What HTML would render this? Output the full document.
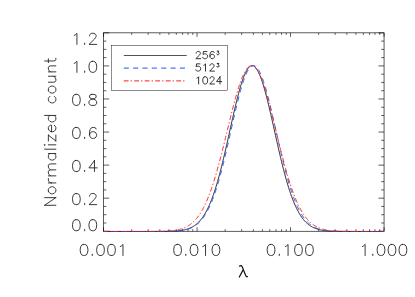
<!DOCTYPE html>
<html><head><meta charset="utf-8"><title>plot</title>
<style>
html,body{margin:0;padding:0;background:#fff;}
body{width:415px;height:297px;overflow:hidden;position:relative;font-family:"Liberation Sans",sans-serif;}
</style></head>
<body>
<svg width="415" height="297" viewBox="0 0 415 297" style="display:block;position:absolute;left:0;top:0">
<rect width="415" height="297" fill="#fff"/>
<g stroke="#000" stroke-width="0.64" fill="none">
<rect x="103.55" y="32.85" width="280.50" height="198.40"/>
<path d="M103.55,231.25 v-3.97 M103.55,32.85 v3.97 M131.70,231.25 v-1.98 M131.70,32.85 v1.98 M148.16,231.25 v-1.98 M148.16,32.85 v1.98 M159.84,231.25 v-1.98 M159.84,32.85 v1.98 M168.90,231.25 v-1.98 M168.90,32.85 v1.98 M176.31,231.25 v-1.98 M176.31,32.85 v1.98 M182.57,231.25 v-1.98 M182.57,32.85 v1.98 M187.99,231.25 v-1.98 M187.99,32.85 v1.98 M192.77,231.25 v-1.98 M192.77,32.85 v1.98 M197.05,231.25 v-3.97 M197.05,32.85 v3.97 M225.20,231.25 v-1.98 M225.20,32.85 v1.98 M241.66,231.25 v-1.98 M241.66,32.85 v1.98 M253.34,231.25 v-1.98 M253.34,32.85 v1.98 M262.40,231.25 v-1.98 M262.40,32.85 v1.98 M269.81,231.25 v-1.98 M269.81,32.85 v1.98 M276.07,231.25 v-1.98 M276.07,32.85 v1.98 M281.49,231.25 v-1.98 M281.49,32.85 v1.98 M286.27,231.25 v-1.98 M286.27,32.85 v1.98 M290.55,231.25 v-3.97 M290.55,32.85 v3.97 M318.70,231.25 v-1.98 M318.70,32.85 v1.98 M335.16,231.25 v-1.98 M335.16,32.85 v1.98 M346.84,231.25 v-1.98 M346.84,32.85 v1.98 M355.90,231.25 v-1.98 M355.90,32.85 v1.98 M363.31,231.25 v-1.98 M363.31,32.85 v1.98 M369.57,231.25 v-1.98 M369.57,32.85 v1.98 M374.99,231.25 v-1.98 M374.99,32.85 v1.98 M379.77,231.25 v-1.98 M379.77,32.85 v1.98 M384.05,231.25 v-3.97 M384.05,32.85 v3.97 M103.55,231.25 h5.61 M384.05,231.25 h-5.61 M103.55,222.98 h2.81 M384.05,222.98 h-2.81 M103.55,214.72 h2.81 M384.05,214.72 h-2.81 M103.55,206.45 h2.81 M384.05,206.45 h-2.81 M103.55,198.18 h5.61 M384.05,198.18 h-5.61 M103.55,189.92 h2.81 M384.05,189.92 h-2.81 M103.55,181.65 h2.81 M384.05,181.65 h-2.81 M103.55,173.38 h2.81 M384.05,173.38 h-2.81 M103.55,165.12 h5.61 M384.05,165.12 h-5.61 M103.55,156.85 h2.81 M384.05,156.85 h-2.81 M103.55,148.58 h2.81 M384.05,148.58 h-2.81 M103.55,140.32 h2.81 M384.05,140.32 h-2.81 M103.55,132.05 h5.61 M384.05,132.05 h-5.61 M103.55,123.78 h2.81 M384.05,123.78 h-2.81 M103.55,115.52 h2.81 M384.05,115.52 h-2.81 M103.55,107.25 h2.81 M384.05,107.25 h-2.81 M103.55,98.98 h5.61 M384.05,98.98 h-5.61 M103.55,90.72 h2.81 M384.05,90.72 h-2.81 M103.55,82.45 h2.81 M384.05,82.45 h-2.81 M103.55,74.18 h2.81 M384.05,74.18 h-2.81 M103.55,65.92 h5.61 M384.05,65.92 h-5.61 M103.55,57.65 h2.81 M384.05,57.65 h-2.81 M103.55,49.38 h2.81 M384.05,49.38 h-2.81 M103.55,41.12 h2.81 M384.05,41.12 h-2.81 M103.55,32.85 h5.61 M384.05,32.85 h-5.61"/>
</g>
<g fill="none" stroke-linejoin="round">
<path d="M103.55,231.50 L104.55,231.50 L105.55,231.50 L106.55,231.50 L107.55,231.50 L108.55,231.50 L109.55,231.50 L110.55,231.50 L111.55,231.50 L112.55,231.50 L113.55,231.50 L114.55,231.50 L115.55,231.50 L116.55,231.50 L117.55,231.50 L118.55,231.50 L119.55,231.50 L120.55,231.50 L121.55,231.50 L122.55,231.50 L123.55,231.50 L124.55,231.50 L125.55,231.50 L126.55,231.50 L127.55,231.50 L128.55,231.50 L129.55,231.50 L130.55,231.50 L131.55,231.50 L132.55,231.50 L133.55,231.50 L134.55,231.50 L135.55,231.50 L136.55,231.50 L137.55,231.50 L138.55,231.50 L139.55,231.50 L140.55,231.50 L141.55,231.50 L142.55,231.50 L143.55,231.50 L144.55,231.50 L145.55,231.50 L146.55,231.50 L147.55,231.50 L148.55,231.50 L149.55,231.50 L150.55,231.49 L151.55,231.49 L152.55,231.49 L153.55,231.49 L154.55,231.49 L155.55,231.49 L156.55,231.48 L157.55,231.48 L158.55,231.47 L159.55,231.47 L160.55,231.46 L161.55,231.46 L162.55,231.45 L163.55,231.44 L164.55,231.43 L165.55,231.41 L166.55,231.39 L167.55,231.37 L168.55,231.35 L169.55,231.32 L170.55,231.29 L171.55,231.26 L172.55,231.21 L173.55,231.16 L174.55,231.11 L175.55,231.04 L176.55,230.97 L177.55,230.88 L178.55,230.78 L179.55,230.67 L180.55,230.54 L181.55,230.39 L182.55,230.22 L183.55,230.03 L184.55,229.81 L185.55,229.57 L186.55,229.29 L187.55,228.99 L188.55,228.64 L189.55,228.25 L190.55,227.82 L191.55,227.34 L192.55,226.81 L193.55,226.22 L194.55,225.56 L195.55,224.84 L196.55,224.05 L197.55,223.17 L198.55,222.22 L199.55,221.17 L200.55,220.03 L201.55,218.79 L202.55,217.45 L203.55,215.99 L204.55,214.42 L205.55,212.72 L206.55,210.90 L207.55,208.95 L208.55,206.86 L209.55,204.63 L210.55,202.26 L211.55,199.74 L212.55,197.08 L213.55,194.27 L214.55,191.31 L215.55,188.20 L216.55,184.94 L217.55,181.54 L218.55,178.00 L219.55,174.33 L220.55,170.52 L221.55,166.59 L222.55,162.55 L223.55,158.40 L224.55,154.16 L225.55,149.83 L226.55,145.44 L227.55,141.00 L228.55,136.51 L229.55,132.00 L230.55,127.49 L231.55,123.00 L232.55,118.53 L233.55,114.12 L234.55,109.78 L235.55,105.54 L236.55,101.40 L237.55,97.41 L238.55,93.57 L239.55,89.90 L240.55,86.42 L241.55,83.16 L242.55,80.14 L243.55,77.36 L244.55,74.84 L245.55,72.60 L246.55,70.66 L247.55,69.02 L248.55,67.69 L249.55,66.68 L250.55,66.00 L251.55,65.65 L252.55,65.63 L253.55,65.95 L254.55,66.59 L255.55,67.56 L256.55,68.84 L257.55,70.44 L258.55,72.34 L259.55,74.53 L260.55,76.99 L261.55,79.73 L262.55,82.71 L263.55,85.92 L264.55,89.34 L265.55,92.97 L266.55,96.76 L267.55,100.72 L268.55,104.81 L269.55,109.02 L270.55,113.32 L271.55,117.70 L272.55,122.14 L273.55,126.61 L274.55,131.10 L275.55,135.59 L276.55,140.06 L277.55,144.50 L278.55,148.88 L279.55,153.20 L280.55,157.44 L281.55,161.60 L282.55,165.65 L283.55,169.59 L284.55,173.41 L285.55,177.10 L286.55,180.66 L287.55,184.08 L288.55,187.36 L289.55,190.49 L290.55,193.48 L291.55,196.32 L292.55,199.01 L293.55,201.56 L294.55,203.96 L295.55,206.22 L296.55,208.34 L297.55,210.32 L298.55,212.18 L299.55,213.90 L300.55,215.51 L301.55,216.99 L302.55,218.37 L303.55,219.64 L304.55,220.80 L305.55,221.87 L306.55,222.85 L307.55,223.75 L308.55,224.57 L309.55,225.31 L310.55,225.99 L311.55,226.60 L312.55,227.15 L313.55,227.65 L314.55,228.10 L315.55,228.50 L316.55,228.86 L317.55,229.18 L318.55,229.46 L319.55,229.72 L320.55,229.94 L321.55,230.14 L322.55,230.32 L323.55,230.48 L324.55,230.61 L325.55,230.73 L326.55,230.84 L327.55,230.93 L328.55,231.01 L329.55,231.08 L330.55,231.14 L331.55,231.19 L332.55,231.24 L333.55,231.28 L334.55,231.31 L335.55,231.34 L336.55,231.36 L337.55,231.39 L338.55,231.40 L339.55,231.42 L340.55,231.43 L341.55,231.44 L342.55,231.45 L343.55,231.46 L344.55,231.47 L345.55,231.47 L346.55,231.48 L347.55,231.48 L348.55,231.48 L349.55,231.49 L350.55,231.49 L351.55,231.49 L352.55,231.49 L353.55,231.49 L354.55,231.50 L355.55,231.50 L356.55,231.50 L357.55,231.50 L358.55,231.50 L359.55,231.50 L360.55,231.50 L361.55,231.50 L362.55,231.50 L363.55,231.50 L364.55,231.50 L365.55,231.50 L366.55,231.50 L367.55,231.50 L368.55,231.50 L369.55,231.50 L370.55,231.50 L371.55,231.50 L372.55,231.50 L373.55,231.50 L374.55,231.50 L375.55,231.50 L376.55,231.50 L377.55,231.50 L378.55,231.50 L379.55,231.50 L380.55,231.50 L381.55,231.50 L382.55,231.50 L383.55,231.50 L384.05,231.50" stroke="#111" stroke-width="0.85"/>
<path d="M103.55,231.50 L104.55,231.50 L105.55,231.50 L106.55,231.50 L107.55,231.50 L108.55,231.50 L109.55,231.50 L110.55,231.50 L111.55,231.50 L112.55,231.50 L113.55,231.50 L114.55,231.50 L115.55,231.50 L116.55,231.50 L117.55,231.50 L118.55,231.50 L119.55,231.50 L120.55,231.50 L121.55,231.50 L122.55,231.50 L123.55,231.50 L124.55,231.50 L125.55,231.50 L126.55,231.50 L127.55,231.50 L128.55,231.50 L129.55,231.50 L130.55,231.50 L131.55,231.50 L132.55,231.50 L133.55,231.50 L134.55,231.50 L135.55,231.50 L136.55,231.50 L137.55,231.50 L138.55,231.50 L139.55,231.50 L140.55,231.50 L141.55,231.50 L142.55,231.50 L143.55,231.50 L144.55,231.50 L145.55,231.50 L146.55,231.50 L147.55,231.50 L148.55,231.50 L149.55,231.50 L150.55,231.50 L151.55,231.49 L152.55,231.49 L153.55,231.49 L154.55,231.49 L155.55,231.49 L156.55,231.48 L157.55,231.48 L158.55,231.48 L159.55,231.47 L160.55,231.47 L161.55,231.46 L162.55,231.45 L163.55,231.44 L164.55,231.43 L165.55,231.42 L166.55,231.40 L167.55,231.39 L168.55,231.36 L169.55,231.34 L170.55,231.31 L171.55,231.28 L172.55,231.24 L173.55,231.19 L174.55,231.14 L175.55,231.08 L176.55,231.01 L177.55,230.93 L178.55,230.84 L179.55,230.74 L180.55,230.62 L181.55,230.49 L182.55,230.33 L183.55,230.16 L184.55,229.96 L185.55,229.74 L186.55,229.49 L187.55,229.21 L188.55,228.89 L189.55,228.54 L190.55,228.15 L191.55,227.71 L192.55,227.22 L193.55,226.68 L194.55,226.08 L195.55,225.41 L196.55,224.68 L197.55,223.88 L198.55,223.00 L199.55,222.04 L200.55,220.99 L201.55,219.84 L202.55,218.60 L203.55,217.25 L204.55,215.79 L205.55,214.21 L206.55,212.52 L207.55,210.70 L208.55,208.75 L209.55,206.66 L210.55,204.44 L211.55,202.08 L212.55,199.58 L213.55,196.93 L214.55,194.14 L215.55,191.20 L216.55,188.11 L217.55,184.88 L218.55,181.51 L219.55,178.00 L220.55,174.36 L221.55,170.58 L222.55,166.69 L223.55,162.69 L224.55,158.58 L225.55,154.38 L226.55,150.10 L227.55,145.75 L228.55,141.35 L229.55,136.91 L230.55,132.44 L231.55,127.97 L232.55,123.51 L233.55,119.08 L234.55,114.70 L235.55,110.39 L236.55,106.17 L237.55,102.05 L238.55,98.07 L239.55,94.23 L240.55,90.56 L241.55,87.08 L242.55,83.81 L243.55,80.76 L244.55,77.95 L245.55,75.40 L246.55,73.11 L247.55,71.11 L248.55,69.41 L249.55,68.01 L250.55,66.93 L251.55,66.16 L252.55,65.72 L253.55,65.60 L254.55,65.81 L255.55,66.35 L256.55,67.20 L257.55,68.37 L258.55,69.85 L259.55,71.63 L260.55,73.70 L261.55,76.04 L262.55,78.65 L263.55,81.52 L264.55,84.61 L265.55,87.92 L266.55,91.44 L267.55,95.13 L268.55,98.98 L269.55,102.98 L270.55,107.11 L271.55,111.33 L272.55,115.64 L273.55,120.01 L274.55,124.43 L275.55,128.87 L276.55,133.32 L277.55,137.77 L278.55,142.18 L279.55,146.56 L280.55,150.88 L281.55,155.12 L282.55,159.29 L283.55,163.36 L284.55,167.33 L285.55,171.19 L286.55,174.92 L287.55,178.53 L288.55,182.00 L289.55,185.34 L290.55,188.54 L291.55,191.59 L292.55,194.50 L293.55,197.26 L294.55,199.88 L295.55,202.36 L296.55,204.69 L297.55,206.89 L298.55,208.95 L299.55,210.88 L300.55,212.68 L301.55,214.35 L302.55,215.91 L303.55,217.36 L304.55,218.69 L305.55,219.92 L306.55,221.06 L307.55,222.10 L308.55,223.05 L309.55,223.92 L310.55,224.72 L311.55,225.44 L312.55,226.10 L313.55,226.70 L314.55,227.23 L315.55,227.72 L316.55,228.15 L317.55,228.55 L318.55,228.90 L319.55,229.21 L320.55,229.49 L321.55,229.74 L322.55,229.96 L323.55,230.16 L324.55,230.33 L325.55,230.48 L326.55,230.62 L327.55,230.74 L328.55,230.84 L329.55,230.93 L330.55,231.01 L331.55,231.08 L332.55,231.14 L333.55,231.19 L334.55,231.24 L335.55,231.28 L336.55,231.31 L337.55,231.34 L338.55,231.36 L339.55,231.38 L340.55,231.40 L341.55,231.42 L342.55,231.43 L343.55,231.44 L344.55,231.45 L345.55,231.46 L346.55,231.47 L347.55,231.47 L348.55,231.48 L349.55,231.48 L350.55,231.48 L351.55,231.49 L352.55,231.49 L353.55,231.49 L354.55,231.49 L355.55,231.49 L356.55,231.50 L357.55,231.50 L358.55,231.50 L359.55,231.50 L360.55,231.50 L361.55,231.50 L362.55,231.50 L363.55,231.50 L364.55,231.50 L365.55,231.50 L366.55,231.50 L367.55,231.50 L368.55,231.50 L369.55,231.50 L370.55,231.50 L371.55,231.50 L372.55,231.50 L373.55,231.50 L374.55,231.50 L375.55,231.50 L376.55,231.50 L377.55,231.50 L378.55,231.50 L379.55,231.50 L380.55,231.50 L381.55,231.50 L382.55,231.50 L383.55,231.50 L384.05,231.50" stroke="#1f55ff" stroke-width="0.95" stroke-dasharray="5.2 4.24" stroke-dashoffset="1"/>
<path d="M103.55,231.50 L104.55,231.50 L105.55,231.50 L106.55,231.50 L107.55,231.50 L108.55,231.50 L109.55,231.50 L110.55,231.50 L111.55,231.50 L112.55,231.50 L113.55,231.50 L114.55,231.50 L115.55,231.50 L116.55,231.50 L117.55,231.50 L118.55,231.50 L119.55,231.50 L120.55,231.50 L121.55,231.50 L122.55,231.50 L123.55,231.50 L124.55,231.50 L125.55,231.50 L126.55,231.50 L127.55,231.50 L128.55,231.50 L129.55,231.50 L130.55,231.50 L131.55,231.50 L132.55,231.50 L133.55,231.50 L134.55,231.50 L135.55,231.50 L136.55,231.50 L137.55,231.50 L138.55,231.50 L139.55,231.50 L140.55,231.49 L141.55,231.49 L142.55,231.49 L143.55,231.49 L144.55,231.49 L145.55,231.49 L146.55,231.48 L147.55,231.48 L148.55,231.48 L149.55,231.47 L150.55,231.47 L151.55,231.46 L152.55,231.46 L153.55,231.45 L154.55,231.44 L155.55,231.43 L156.55,231.42 L157.55,231.40 L158.55,231.38 L159.55,231.37 L160.55,231.34 L161.55,231.32 L162.55,231.29 L163.55,231.25 L164.55,231.21 L165.55,231.17 L166.55,231.12 L167.55,231.06 L168.55,230.99 L169.55,230.92 L170.55,230.83 L171.55,230.74 L172.55,230.63 L173.55,230.50 L174.55,230.37 L175.55,230.21 L176.55,230.04 L177.55,229.84 L178.55,229.62 L179.55,229.38 L180.55,229.11 L181.55,228.81 L182.55,228.47 L183.55,228.10 L184.55,227.70 L185.55,227.25 L186.55,226.75 L187.55,226.21 L188.55,225.61 L189.55,224.96 L190.55,224.25 L191.55,223.47 L192.55,222.63 L193.55,221.71 L194.55,220.72 L195.55,219.64 L196.55,218.48 L197.55,217.23 L198.55,215.89 L199.55,214.45 L200.55,212.91 L201.55,211.26 L202.55,209.50 L203.55,207.64 L204.55,205.65 L205.55,203.55 L206.55,201.33 L207.55,198.98 L208.55,196.51 L209.55,193.92 L210.55,191.21 L211.55,188.37 L212.55,185.40 L213.55,182.32 L214.55,179.12 L215.55,175.80 L216.55,172.37 L217.55,168.84 L218.55,165.21 L219.55,161.48 L220.55,157.67 L221.55,153.79 L222.55,149.83 L223.55,145.82 L224.55,141.76 L225.55,137.67 L226.55,133.56 L227.55,129.43 L228.55,125.32 L229.55,121.22 L230.55,117.15 L231.55,113.14 L232.55,109.18 L233.55,105.31 L234.55,101.54 L235.55,97.87 L236.55,94.34 L237.55,90.94 L238.55,87.71 L239.55,84.65 L240.55,81.77 L241.55,79.09 L242.55,76.63 L243.55,74.39 L244.55,72.38 L245.55,70.62 L246.55,69.12 L247.55,67.87 L248.55,66.89 L249.55,66.18 L250.55,65.75 L251.55,65.60 L252.55,65.73 L253.55,66.13 L254.55,66.81 L255.55,67.76 L256.55,68.98 L257.55,70.46 L258.55,72.20 L259.55,74.18 L260.55,76.39 L261.55,78.84 L262.55,81.49 L263.55,84.35 L264.55,87.39 L265.55,90.61 L266.55,93.99 L267.55,97.51 L268.55,101.17 L269.55,104.93 L270.55,108.79 L271.55,112.74 L272.55,116.75 L273.55,120.81 L274.55,124.90 L275.55,129.02 L276.55,133.14 L277.55,137.26 L278.55,141.36 L279.55,145.42 L280.55,149.43 L281.55,153.39 L282.55,157.29 L283.55,161.11 L284.55,164.84 L285.55,168.48 L286.55,172.03 L287.55,175.46 L288.55,178.79 L289.55,182.01 L290.55,185.10 L291.55,188.08 L292.55,190.93 L293.55,193.66 L294.55,196.26 L295.55,198.74 L296.55,201.10 L297.55,203.33 L298.55,205.45 L299.55,207.44 L300.55,209.32 L301.55,211.09 L302.55,212.75 L303.55,214.30 L304.55,215.75 L305.55,217.10 L306.55,218.36 L307.55,219.53 L308.55,220.61 L309.55,221.61 L310.55,222.54 L311.55,223.39 L312.55,224.17 L313.55,224.89 L314.55,225.55 L315.55,226.15 L316.55,226.70 L317.55,227.20 L318.55,227.65 L319.55,228.07 L320.55,228.44 L321.55,228.78 L322.55,229.08 L323.55,229.35 L324.55,229.60 L325.55,229.82 L326.55,230.02 L327.55,230.19 L328.55,230.35 L329.55,230.49 L330.55,230.62 L331.55,230.73 L332.55,230.82 L333.55,230.91 L334.55,230.99 L335.55,231.05 L336.55,231.11 L337.55,231.16 L338.55,231.21 L339.55,231.25 L340.55,231.28 L341.55,231.31 L342.55,231.34 L343.55,231.36 L344.55,231.38 L345.55,231.40 L346.55,231.41 L347.55,231.43 L348.55,231.44 L349.55,231.45 L350.55,231.46 L351.55,231.46 L352.55,231.47 L353.55,231.47 L354.55,231.48 L355.55,231.48 L356.55,231.48 L357.55,231.49 L358.55,231.49 L359.55,231.49 L360.55,231.49 L361.55,231.49 L362.55,231.49 L363.55,231.50 L364.55,231.50 L365.55,231.50 L366.55,231.50 L367.55,231.50 L368.55,231.50 L369.55,231.50 L370.55,231.50 L371.55,231.50 L372.55,231.50 L373.55,231.50 L374.55,231.50 L375.55,231.50 L376.55,231.50 L377.55,231.50 L378.55,231.50 L379.55,231.50 L380.55,231.50 L381.55,231.50 L382.55,231.50 L383.55,231.50 L384.05,231.50" stroke="#ff1a1a" stroke-width="0.9" stroke-dasharray="4.9 2 1.4 2.3"/>
</g>
<rect x="111.5" y="45.6" width="116.1" height="44.85" fill="#fff" stroke="#000" stroke-width="0.45"/>
<path d="M123.8,55.5 H186.7" stroke="#000" stroke-width="0.68"/>
<path d="M123.75,68.1 H186.2" stroke="#1f55ff" stroke-width="1" stroke-dasharray="5.1 4.26"/>
<path d="M123.75,80.9 H186.8" stroke="#ff1a1a" stroke-width="1" stroke-dasharray="4.85 2 1.35 2.3"/>
<path d="M74.19,35.42L75.28,34.90L76.93,33.31L76.93,44.40M84.60,43.34L84.05,43.87L84.60,44.40L85.15,43.87L84.60,43.34M89.53,35.95L89.53,35.42L90.08,34.37L90.63,33.84L91.72,33.31L93.92,33.31L95.01,33.84L95.56,34.37L96.11,35.42L96.11,36.48L95.56,37.54L94.46,39.12L88.98,44.40L96.66,44.40M74.19,63.39L75.28,62.86L76.93,61.28L76.93,72.37M84.60,71.31L84.05,71.84L84.60,72.37L85.15,71.84L84.60,71.31M92.27,61.28L90.63,61.81L89.53,63.39L88.98,66.03L88.98,67.61L89.53,70.25L90.63,71.84L92.27,72.37L93.37,72.37L95.01,71.84L96.11,70.25L96.66,67.61L96.66,66.03L96.11,63.39L95.01,61.81L93.37,61.28L92.27,61.28M75.83,94.35L74.19,94.87L73.09,96.46L72.54,99.10L72.54,100.68L73.09,103.32L74.19,104.91L75.83,105.43L76.93,105.43L78.57,104.91L79.67,103.32L80.22,100.68L80.22,99.10L79.67,96.46L78.57,94.87L76.93,94.35L75.83,94.35M84.60,104.38L84.05,104.91L84.60,105.43L85.15,104.91L84.60,104.38M91.72,94.35L90.08,94.87L89.53,95.93L89.53,96.99L90.08,98.04L91.18,98.57L93.37,99.10L95.01,99.63L96.11,100.68L96.66,101.74L96.66,103.32L96.11,104.38L95.56,104.91L93.92,105.43L91.72,105.43L90.08,104.91L89.53,104.38L88.98,103.32L88.98,101.74L89.53,100.68L90.63,99.63L92.27,99.10L94.46,98.57L95.56,98.04L96.11,96.99L96.11,95.93L95.56,94.87L93.92,94.35L91.72,94.35M75.83,127.41L74.19,127.94L73.09,129.52L72.54,132.16L72.54,133.75L73.09,136.39L74.19,137.97L75.83,138.50L76.93,138.50L78.57,137.97L79.67,136.39L80.22,133.75L80.22,132.16L79.67,129.52L78.57,127.94L76.93,127.41L75.83,127.41M84.60,137.44L84.05,137.97L84.60,138.50L85.15,137.97L84.60,137.44M96.11,129.00L95.56,127.94L93.92,127.41L92.82,127.41L91.18,127.94L90.08,129.52L89.53,132.16L89.53,134.80L90.08,136.92L91.18,137.97L92.82,138.50L93.37,138.50L95.01,137.97L96.11,136.92L96.66,135.33L96.66,134.80L96.11,133.22L95.01,132.16L93.37,131.64L92.82,131.64L91.18,132.16L90.08,133.22L89.53,134.80M75.83,160.48L74.19,161.01L73.09,162.59L72.54,165.23L72.54,166.81L73.09,169.45L74.19,171.04L75.83,171.57L76.93,171.57L78.57,171.04L79.67,169.45L80.22,166.81L80.22,165.23L79.67,162.59L78.57,161.01L76.93,160.48L75.83,160.48M84.60,170.51L84.05,171.04L84.60,171.57L85.15,171.04L84.60,170.51M94.46,160.48L88.98,167.87L97.20,167.87M94.46,160.48L94.46,171.57M75.83,193.55L74.19,194.07L73.09,195.66L72.54,198.30L72.54,199.88L73.09,202.52L74.19,204.11L75.83,204.63L76.93,204.63L78.57,204.11L79.67,202.52L80.22,199.88L80.22,198.30L79.67,195.66L78.57,194.07L76.93,193.55L75.83,193.55M84.60,203.58L84.05,204.11L84.60,204.63L85.15,204.11L84.60,203.58M89.53,196.19L89.53,195.66L90.08,194.60L90.63,194.07L91.72,193.55L93.92,193.55L95.01,194.07L95.56,194.60L96.11,195.66L96.11,196.71L95.56,197.77L94.46,199.35L88.98,204.63L96.66,204.63M75.83,219.66L74.19,220.19L73.09,221.77L72.54,224.41L72.54,226.00L73.09,228.64L74.19,230.22L75.83,230.75L76.93,230.75L78.57,230.22L79.67,228.64L80.22,226.00L80.22,224.41L79.67,221.77L78.57,220.19L76.93,219.66L75.83,219.66M84.60,229.69L84.05,230.22L84.60,230.75L85.15,230.22L84.60,229.69M92.27,219.66L90.63,220.19L89.53,221.77L88.98,224.41L88.98,226.00L89.53,228.64L90.63,230.22L92.27,230.75L93.37,230.75L95.01,230.22L96.11,228.64L96.66,226.00L96.66,224.41L96.11,221.77L95.01,220.19L93.37,219.66L92.27,219.66M83.52,244.41L81.88,244.94L80.78,246.52L80.23,249.16L80.23,250.75L80.78,253.39L81.88,254.97L83.52,255.50L84.62,255.50L86.26,254.97L87.36,253.39L87.91,250.75L87.91,249.16L87.36,246.52L86.26,244.94L84.62,244.41L83.52,244.41M92.29,254.44L91.74,254.97L92.29,255.50L92.84,254.97L92.29,254.44M99.96,244.41L98.32,244.94L97.22,246.52L96.67,249.16L96.67,250.75L97.22,253.39L98.32,254.97L99.96,255.50L101.06,255.50L102.70,254.97L103.80,253.39L104.35,250.75L104.35,249.16L103.80,246.52L102.70,244.94L101.06,244.41L99.96,244.41M110.92,244.41L109.28,244.94L108.18,246.52L107.63,249.16L107.63,250.75L108.18,253.39L109.28,254.97L110.92,255.50L112.02,255.50L113.66,254.97L114.76,253.39L115.31,250.75L115.31,249.16L114.76,246.52L113.66,244.94L112.02,244.41L110.92,244.41M120.24,246.52L121.33,246.00L122.98,244.41L122.98,255.50M177.02,244.41L175.38,244.94L174.28,246.52L173.73,249.16L173.73,250.75L174.28,253.39L175.38,254.97L177.02,255.50L178.12,255.50L179.76,254.97L180.86,253.39L181.41,250.75L181.41,249.16L180.86,246.52L179.76,244.94L178.12,244.41L177.02,244.41M185.79,254.44L185.24,254.97L185.79,255.50L186.34,254.97L185.79,254.44M193.46,244.41L191.82,244.94L190.72,246.52L190.17,249.16L190.17,250.75L190.72,253.39L191.82,254.97L193.46,255.50L194.56,255.50L196.20,254.97L197.30,253.39L197.85,250.75L197.85,249.16L197.30,246.52L196.20,244.94L194.56,244.41L193.46,244.41M202.78,246.52L203.87,246.00L205.52,244.41L205.52,255.50M215.38,244.41L213.74,244.94L212.64,246.52L212.09,249.16L212.09,250.75L212.64,253.39L213.74,254.97L215.38,255.50L216.48,255.50L218.12,254.97L219.22,253.39L219.77,250.75L219.77,249.16L219.22,246.52L218.12,244.94L216.48,244.41L215.38,244.41M270.52,244.41L268.88,244.94L267.78,246.52L267.23,249.16L267.23,250.75L267.78,253.39L268.88,254.97L270.52,255.50L271.62,255.50L273.26,254.97L274.36,253.39L274.91,250.75L274.91,249.16L274.36,246.52L273.26,244.94L271.62,244.41L270.52,244.41M279.29,254.44L278.74,254.97L279.29,255.50L279.84,254.97L279.29,254.44M285.32,246.52L286.41,246.00L288.06,244.41L288.06,255.50M297.92,244.41L296.28,244.94L295.18,246.52L294.63,249.16L294.63,250.75L295.18,253.39L296.28,254.97L297.92,255.50L299.02,255.50L300.66,254.97L301.76,253.39L302.31,250.75L302.31,249.16L301.76,246.52L300.66,244.94L299.02,244.41L297.92,244.41M308.88,244.41L307.24,244.94L306.14,246.52L305.59,249.16L305.59,250.75L306.14,253.39L307.24,254.97L308.88,255.50L309.98,255.50L311.62,254.97L312.72,253.39L313.27,250.75L313.27,249.16L312.72,246.52L311.62,244.94L309.98,244.41L308.88,244.41M362.38,246.52L363.47,246.00L365.12,244.41L365.12,255.50M372.79,254.44L372.24,254.97L372.79,255.50L373.34,254.97L372.79,254.44M380.46,244.41L378.82,244.94L377.72,246.52L377.17,249.16L377.17,250.75L377.72,253.39L378.82,254.97L380.46,255.50L381.56,255.50L383.20,254.97L384.30,253.39L384.85,250.75L384.85,249.16L384.30,246.52L383.20,244.94L381.56,244.41L380.46,244.41M391.42,244.41L389.78,244.94L388.68,246.52L388.13,249.16L388.13,250.75L388.68,253.39L389.78,254.97L391.42,255.50L392.52,255.50L394.16,254.97L395.26,253.39L395.81,250.75L395.81,249.16L395.26,246.52L394.16,244.94L392.52,244.41L391.42,244.41M402.38,244.41L400.74,244.94L399.64,246.52L399.09,249.16L399.09,250.75L399.64,253.39L400.74,254.97L402.38,255.50L403.48,255.50L405.12,254.97L406.22,253.39L406.77,250.75L406.77,249.16L406.22,246.52L405.12,244.94L403.48,244.41L402.38,244.41M44.62,205.27L55.85,205.27M44.62,205.27L55.85,197.65M44.62,197.65L55.85,197.65M48.36,191.11L48.90,192.20L49.97,193.29L51.57,193.84L52.64,193.84L54.25,193.29L55.32,192.20L55.85,191.11L55.85,189.48L55.32,188.39L54.25,187.30L52.64,186.76L51.57,186.76L49.97,187.30L48.90,188.39L48.36,189.48L48.36,191.11M48.36,182.95L55.85,182.95M51.57,182.95L49.97,182.40L48.90,181.31L48.36,180.22L48.36,178.59M48.36,175.87L55.85,175.87M50.50,175.87L48.90,174.24L48.36,173.15L48.36,171.51L48.90,170.42L50.50,169.88L55.85,169.88M50.50,169.88L48.90,168.25L48.36,167.16L48.36,165.52L48.90,164.43L50.50,163.89L55.85,163.89M48.36,153.54L55.85,153.54M49.97,153.54L48.90,154.63L48.36,155.72L48.36,157.36L48.90,158.44L49.97,159.53L51.57,160.08L52.64,160.08L54.25,159.53L55.32,158.44L55.85,157.36L55.85,155.72L55.32,154.63L54.25,153.54M44.62,149.19L55.85,149.19M44.62,145.38L45.15,144.83L44.62,144.29L44.08,144.83L44.62,145.38M48.36,144.83L55.85,144.83M48.36,135.03L55.85,141.02M48.36,141.02L48.36,135.03M55.85,141.02L55.85,135.03M51.57,131.76L51.57,125.23L50.50,125.23L49.43,125.77L48.90,126.32L48.36,127.41L48.36,129.04L48.90,130.13L49.97,131.22L51.57,131.76L52.64,131.76L54.25,131.22L55.32,130.13L55.85,129.04L55.85,127.41L55.32,126.32L54.25,125.23M44.62,115.43L55.85,115.43M49.97,115.43L48.90,116.52L48.36,117.61L48.36,119.24L48.90,120.33L49.97,121.42L51.57,121.96L52.64,121.96L54.25,121.42L55.32,120.33L55.85,119.24L55.85,117.61L55.32,116.52L54.25,115.43M49.97,96.37L48.90,97.46L48.36,98.55L48.36,100.18L48.90,101.27L49.97,102.36L51.57,102.91L52.64,102.91L54.25,102.36L55.32,101.27L55.85,100.18L55.85,98.55L55.32,97.46L54.25,96.37M48.36,90.38L48.90,91.47L49.97,92.56L51.57,93.10L52.64,93.10L54.25,92.56L55.32,91.47L55.85,90.38L55.85,88.75L55.32,87.66L54.25,86.57L52.64,86.03L51.57,86.03L49.97,86.57L48.90,87.66L48.36,88.75L48.36,90.38M48.36,82.21L53.71,82.21L55.32,81.67L55.85,80.58L55.85,78.95L55.32,77.86L53.71,76.23M48.36,76.23L55.85,76.23M48.36,71.87L55.85,71.87M50.50,71.87L48.90,70.24L48.36,69.15L48.36,67.51L48.90,66.42L50.50,65.88L55.85,65.88M44.62,60.98L53.71,60.98L55.32,60.44L55.85,59.35L55.85,58.26M48.36,62.61L48.36,58.80" fill="none" stroke="#222" stroke-width="0.9" stroke-linecap="round" stroke-linejoin="round"/>
<path d="M196.18,53.18L196.18,52.84L196.53,52.15L196.87,51.80L197.56,51.46L198.94,51.46L199.63,51.80L199.98,52.15L200.32,52.84L200.32,53.53L199.98,54.22L199.29,55.25L195.84,58.70L200.67,58.70M206.88,51.46L203.43,51.46L203.08,54.56L203.43,54.22L204.46,53.87L205.50,53.87L206.53,54.22L207.22,54.91L207.56,55.94L207.56,56.63L207.22,57.67L206.53,58.36L205.50,58.70L204.46,58.70L203.43,58.36L203.08,58.01L202.74,57.32M214.12,52.49L213.78,51.80L212.74,51.46L212.05,51.46L211.02,51.80L210.33,52.84L209.98,54.56L209.98,56.29L210.33,57.67L211.02,58.36L212.05,58.70L212.40,58.70L213.43,58.36L214.12,57.67L214.47,56.63L214.47,56.29L214.12,55.25L213.43,54.56L212.40,54.22L212.05,54.22L211.02,54.56L210.33,55.25L209.98,56.29M199.98,63.85L196.53,63.85L196.18,66.96L196.53,66.61L197.56,66.27L198.59,66.27L199.63,66.61L200.32,67.30L200.67,68.34L200.67,69.03L200.32,70.06L199.63,70.75L198.59,71.10L197.56,71.10L196.53,70.75L196.18,70.41L195.84,69.72M203.77,65.23L204.46,64.89L205.50,63.85L205.50,71.10M209.98,65.58L209.98,65.23L210.33,64.54L210.67,64.20L211.36,63.85L212.74,63.85L213.43,64.20L213.78,64.54L214.12,65.23L214.12,65.92L213.78,66.61L213.09,67.65L209.64,71.10L214.47,71.10M196.92,78.14L197.61,77.79L198.64,76.75L198.64,84.00M204.85,76.75L203.82,77.10L203.13,78.14L202.78,79.86L202.78,80.89L203.13,82.62L203.82,83.66L204.85,84.00L205.54,84.00L206.58,83.66L207.27,82.62L207.61,80.89L207.61,79.86L207.27,78.14L206.58,77.10L205.54,76.75L204.85,76.75M210.03,78.48L210.03,78.14L210.38,77.44L210.72,77.10L211.41,76.75L212.79,76.75L213.48,77.10L213.82,77.44L214.17,78.14L214.17,78.83L213.82,79.52L213.13,80.55L209.69,84.00L214.51,84.00M220.03,76.75L216.58,81.58L221.76,81.58M220.03,76.75L220.03,84.00" fill="none" stroke="#111" stroke-width="0.85" stroke-linecap="round" stroke-linejoin="round"/>
<path d="M217.20,51.08L218.85,51.08L217.95,52.48L218.40,52.48L218.70,52.65L218.85,52.83L219.00,53.35L219.00,53.70L218.85,54.23L218.55,54.58L218.10,54.75L217.65,54.75L217.20,54.58L217.05,54.40L216.90,54.05M217.20,63.48L218.85,63.48L217.95,64.88L218.40,64.88L218.70,65.05L218.85,65.23L219.00,65.75L219.00,66.10L218.85,66.62L218.55,66.98L218.10,67.15L217.65,67.15L217.20,66.98L217.05,66.80L216.90,66.45" fill="none" stroke="#000" stroke-width="0.85" stroke-linecap="round" stroke-linejoin="round"/>
<path d="M239.5,266.2 C240.5,265.3 241.6,265.4 242.3,267.1 L245.8,275.8 C246.2,276.8 246.8,277.0 247.5,276.6 M243.25,269.6 L239.3,277.05" fill="none" stroke="#111" stroke-width="1.2" stroke-linecap="round" stroke-linejoin="round"/>
</svg>
</body></html>
